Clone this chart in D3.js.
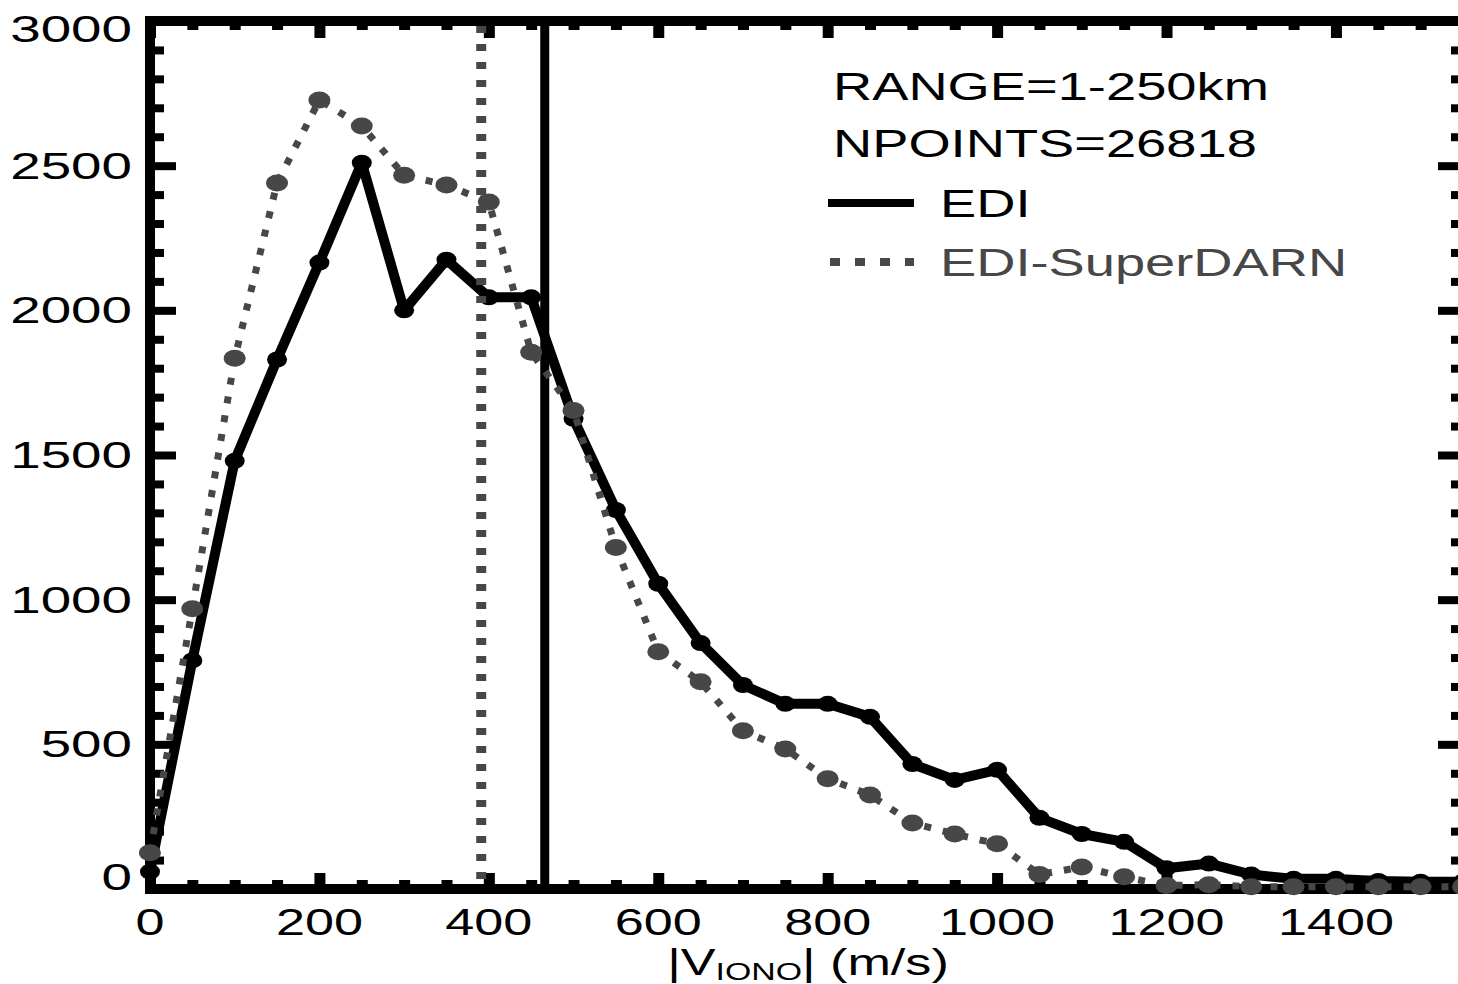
<!DOCTYPE html>
<html>
<head>
<meta charset="utf-8">
<script src="https://cdn.jsdelivr.net/npm/d3@7"></script>
<style>
  body { margin: 0; background: #fff; }
  text { font-family: "Liberation Sans", Arial, Helvetica, sans-serif; }
</style>
</head>
<body>
<svg id="chart" width="1458" height="984"></svg>
<script>
// |V_IONO| bins (m/s)
const speeds = [0, 50, 100, 150, 200, 250, 300, 350, 400, 450, 500, 550, 600, 650, 700, 750,
                800, 850, 900, 950, 1000, 1050, 1100, 1150, 1200, 1250, 1300, 1350, 1400, 1450, 1500, 1550];
// Counts per bin, EDI
const ediCounts = [60, 790, 1480, 1830, 2165, 2510, 2000, 2175, 2045, 2045, 1625, 1310, 1055, 850, 705, 640,
                   640, 595, 432, 377, 412, 246, 190, 163, 72, 88, 50, 35, 35, 28, 25, 25];
// Counts per bin, EDI-SuperDARN
const ediSdCounts = [125, 969, 1834, 2440, 2727, 2637, 2467, 2433, 2374, 1855, 1654, 1180, 820, 716, 547, 484,
                     381, 325, 228, 190, 156, 50, 76, 42, 12, 15, 8, 8, 8, 8, 8, 8];
// Mean speeds drawn as vertical lines: [EDI, EDI-SuperDARN]
const meanSpeeds = [466, 391];

const xTickValues = [0, 200, 400, 600, 800, 1000, 1200, 1400];
const yTickValues = [0, 500, 1000, 1500, 2000, 2500, 3000];
const infoLines = ["RANGE=1-250km", "NPOINTS=26818"];
const seriesNames = ["EDI", "EDI-SuperDARN"];

const svg = d3.select("#chart");
const plotL = 150, plotR = 1463, plotT = 21, plotB = 889;
const SX = 1.41;            // horizontal glyph stretch
const grey = "#474747";
const fontSize = 37;

const x = d3.scaleLinear().domain([0, 1550]).range([plotL, plotR]);
const y = d3.scaleLinear().domain([0, 3000]).range([plotB, plotT]);

const xMinor = d3.range(0, 1551, 50).filter(v => v % 200 !== 0);
const yMinor = d3.range(0, 3001, 100).filter(v => v % 500 !== 0);

// ---- frame ----
svg.append("rect")
  .attr("x", plotL).attr("y", plotT)
  .attr("width", plotR - plotL).attr("height", plotB - plotT)
  .attr("fill", "none").attr("stroke", "#000").attr("stroke-width", 10);

// ---- inward ticks on all four sides ----
function ticks(axis, tr, width) {
  const g = svg.append("g").attr("transform", tr).call(axis);
  g.select(".domain").remove();
  g.selectAll(".tick line").attr("stroke", "#000").attr("stroke-width", width);
  g.selectAll(".tick text").remove();
}
ticks(d3.axisBottom(x).tickValues(xTickValues).tickSize(-16), `translate(0,${plotB})`, 11);
ticks(d3.axisBottom(x).tickValues(xMinor).tickSize(-9), `translate(0,${plotB})`, 11);
ticks(d3.axisTop(x).tickValues(xTickValues).tickSize(-17), `translate(0,${plotT})`, 11);
ticks(d3.axisTop(x).tickValues(xMinor).tickSize(-9), `translate(0,${plotT})`, 11);
ticks(d3.axisLeft(y).tickValues(yTickValues).tickSize(-26), `translate(${plotL},0)`, 8);
ticks(d3.axisLeft(y).tickValues(yMinor).tickSize(-14), `translate(${plotL},0)`, 8);
ticks(d3.axisRight(y).tickValues(yTickValues).tickSize(-25), `translate(${plotR},0)`, 8);
ticks(d3.axisRight(y).tickValues(yMinor).tickSize(-12), `translate(${plotR},0)`, 8);

// ---- stretched text helper ----
function label(px, py, str, anchor, size, fill, sx) {
  const g = svg.append("g").attr("transform", `translate(${px},${py}) scale(${sx || SX},1)`);
  return g.append("text")
    .attr("text-anchor", anchor)
    .attr("font-size", size)
    .attr("fill", fill || "#000")
    .text(str);
}

// tick labels
xTickValues.forEach(v => label(x(v), 935, String(v), "middle", fontSize));
yTickValues.forEach(v => label(132, Math.min(890, Math.max(42, y(v) + 13)), String(v), "end", 37.5, "#000", 1.46));

// axis title |V_IONO| (m/s)
{
  const g = svg.append("g").attr("transform", `translate(808,975) scale(${SX},1)`);
  const t = g.append("text").attr("text-anchor", "middle").attr("font-size", fontSize).attr("fill", "#000");
  t.append("tspan").text("|V");
  t.append("tspan").attr("font-size", 24).attr("dy", 5).text("IONO");
  t.append("tspan").attr("dy", -5).text("| (m/s)");
}

// ---- data ----
const ediData = speeds.map((s, i) => [s, ediCounts[i]]);
const sdData = speeds.map((s, i) => [s, ediSdCounts[i]]);
const line = d3.line().x(d => x(d[0])).y(d => y(d[1]));

// EDI: solid black
svg.append("path").datum(ediData)
  .attr("d", line).attr("fill", "none").attr("stroke", "#000")
  .attr("stroke-width", 10).attr("stroke-linejoin", "round");
svg.append("g").selectAll("ellipse").data(ediData).join("ellipse")
  .attr("cx", d => x(d[0])).attr("cy", d => y(d[1]))
  .attr("rx", 10).attr("ry", 8).attr("fill", "#000");
svg.append("line")
  .attr("x1", x(meanSpeeds[0])).attr("x2", x(meanSpeeds[0]))
  .attr("y1", plotT + 5).attr("y2", plotB - 5)
  .attr("stroke", "#000").attr("stroke-width", 9);

// EDI-SuperDARN: dotted grey
svg.append("path").datum(sdData)
  .attr("d", line).attr("fill", "none").attr("stroke", grey)
  .attr("stroke-width", 7).attr("stroke-dasharray", "7 12");
svg.append("g").selectAll("ellipse").data(sdData).join("ellipse")
  .attr("cx", d => x(d[0])).attr("cy", d => y(d[1]))
  .attr("rx", 11).attr("ry", 8.5).attr("fill", grey);
svg.append("line")
  .attr("x1", x(meanSpeeds[1])).attr("x2", x(meanSpeeds[1]))
  .attr("y1", plotT + 5).attr("y2", plotB - 5)
  .attr("stroke", grey).attr("stroke-width", 10).attr("stroke-dasharray", "7 11");

// ---- legend ----
label(833, 100, infoLines[0], "start", 38.5);
label(833, 157, infoLines[1], "start", 38.5);
svg.append("line").attr("x1", 828).attr("x2", 914).attr("y1", 203).attr("y2", 203)
  .attr("stroke", "#000").attr("stroke-width", 8);
label(940, 217, seriesNames[0], "start", 38.5);
svg.append("line").attr("x1", 830).attr("x2", 914).attr("y1", 262).attr("y2", 262)
  .attr("stroke", grey).attr("stroke-width", 8).attr("stroke-dasharray", "10 15");
label(940, 276, seriesNames[1], "start", 38.5, grey);
</script>
</body>
</html>
